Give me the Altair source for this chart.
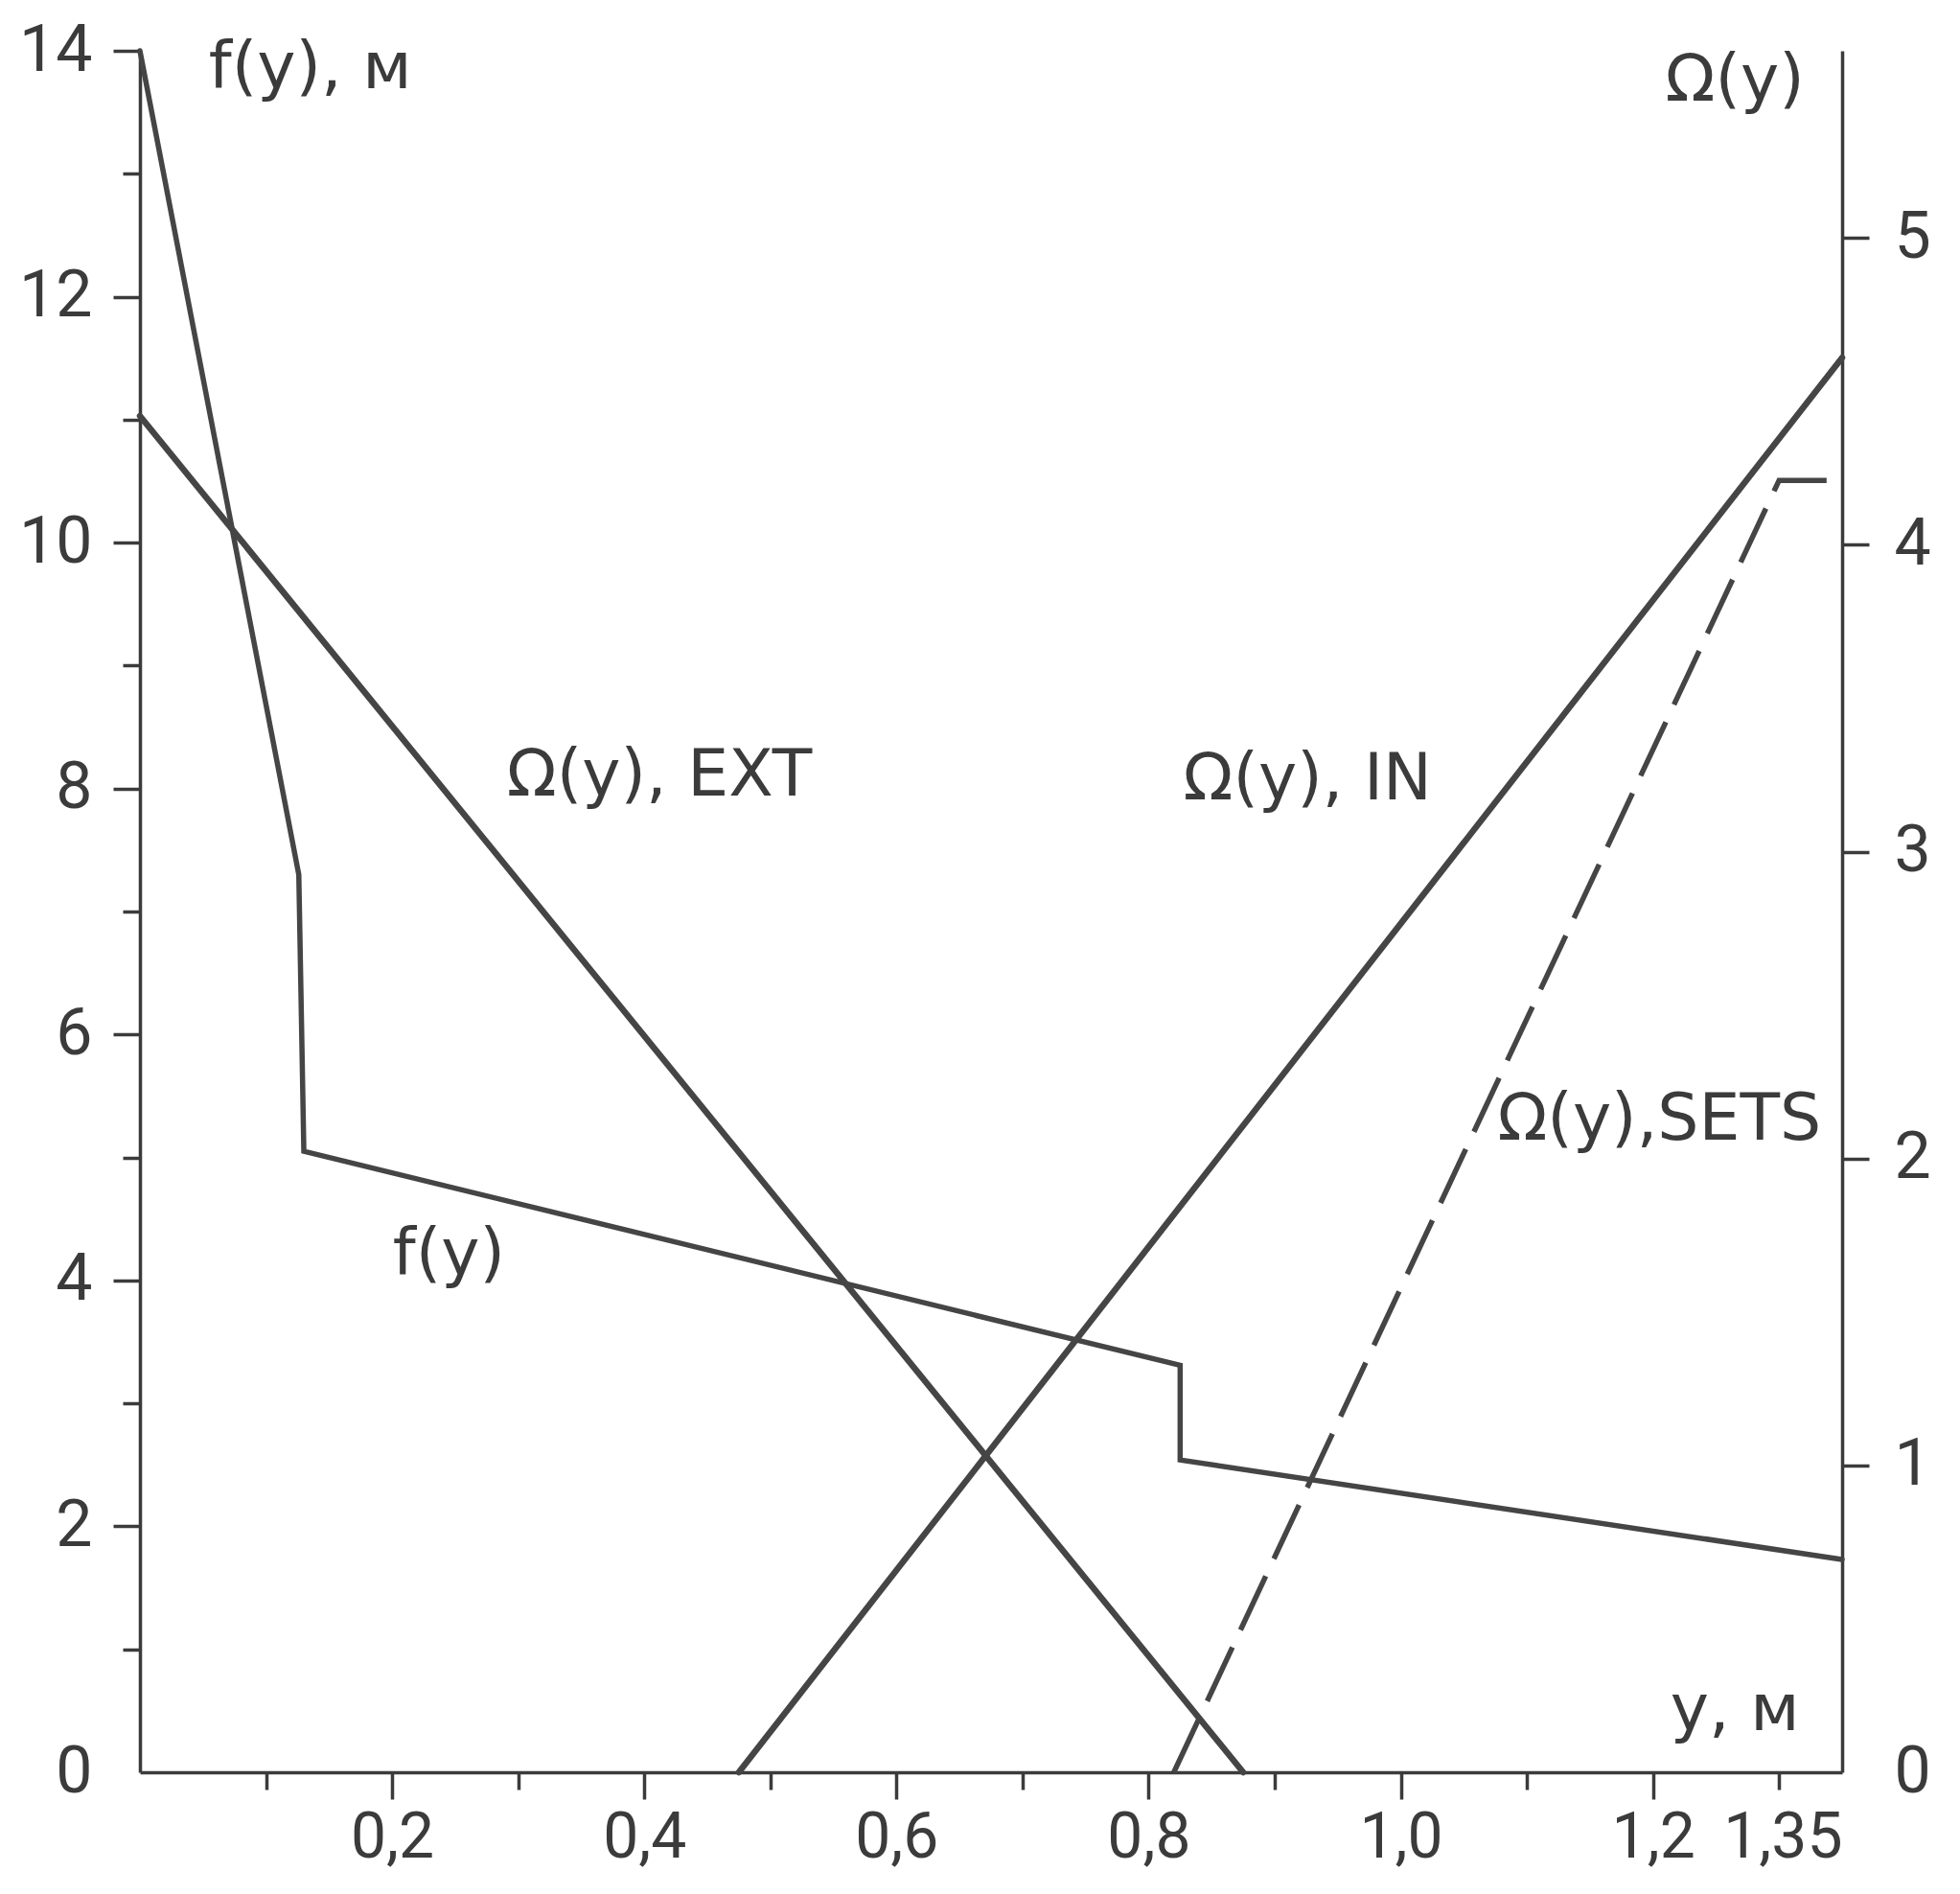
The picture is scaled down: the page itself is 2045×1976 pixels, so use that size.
import altair as alt
import pandas as pd

# ---------------- data ----------------
# f(y), m  (left axis)
f_x = [0.0, 0.126, 0.13, 0.825, 0.825, 1.35]
f_val = [14.0, 7.3, 5.05, 3.31, 2.54, 1.73]

# Omega(y) curves (right axis)
ext_x = [0.0, 0.875]
ext_val = [4.42, 0.0]
in_x = [0.475, 1.35]
in_val = [0.0, 4.61]
sets_x = [0.82, 1.30, 1.35]
sets_val = [0.0, 4.21, 4.21]

# axes
x_domain = [0.0, 1.35]
f_domain = [0.0, 14.0]
omega_domain = [0.0, 5.61]
x_tick_values = [0.1, 0.2, 0.3, 0.4, 0.5, 0.6, 0.7, 0.8, 0.9, 1.0, 1.1, 1.2, 1.3, 1.35]
x_tick_labels = {0.2: "0,2", 0.4: "0,4", 0.6: "0,6", 0.8: "0,8",
                 1.0: "1,0", 1.2: "1,2", 1.35: "1,35"}
f_tick_values = list(range(0, 15))
f_tick_labels = {0: "0", 2: "2", 4: "4", 6: "6", 8: "8", 10: "10", 12: "12", 14: "14"}
omega_tick_values = [0, 1, 2, 3, 4, 5]

# annotations (centre position in x / f units)
ann_text = ["f(y), м", "Ω(y)", "y, м", "Ω(y), EXT", "Ω(y), IN", "Ω(y),SETS", "f(y)"]
ann_x = [0.135, 1.265, 1.265, 0.412, 0.926, 1.205, 0.245]
ann_f = [13.85, 13.75, 0.5, 8.1, 8.07, 5.3, 4.2]

# ---------------- build tables ----------------
f_df = pd.DataFrame({"x": f_x, "f": f_val, "i": list(range(len(f_x)))})
solid_df = pd.DataFrame({
    "x": ext_x + in_x,
    "omega": ext_val + in_val,
    "series": ["EXT"] * len(ext_x) + ["IN"] * len(in_x),
    "i": list(range(len(ext_x))) + list(range(len(in_x))),
})
sets_df = pd.DataFrame({"x": sets_x, "omega": sets_val, "i": list(range(len(sets_x)))})
ann_df = pd.DataFrame({"x": ann_x, "f": ann_f, "t": ann_text})

INK = "#3b3b3b"
LINE = "#454545"


def near(v):
    return f"abs(datum.value - {v}) < 0.001"


x_label_expr = " : ".join(f"{near(v)} ? '{s}'" for v, s in x_tick_labels.items()) + " : ''"
x_major_test = " || ".join(near(v) for v in x_tick_labels)
f_label_expr = " : ".join(f"{near(v)} ? '{s}'" for v, s in f_tick_labels.items()) + " : ''"
f_major_test = " || ".join(near(v) for v in f_tick_labels)

x_axis = alt.Axis(
    title=None, values=x_tick_values, labelExpr=x_label_expr, orient="bottom",
    tickSize={"condition": {"test": x_major_test, "value": 28}, "value": 18},
    tickOpacity={"condition": {"test": near(1.35), "value": 0}, "value": 1},
    labelPadding=8, labelFont="Roboto", labelFontSize=66,
)
f_axis = alt.Axis(
    title=None, values=f_tick_values, labelExpr=f_label_expr, orient="left",
    tickSize={"condition": {"test": f_major_test, "value": 28}, "value": 18},
    tickOpacity={"condition": {"test": near(0), "value": 0}, "value": 1},
    labelPadding=22, labelFont="Roboto", labelFontSize=68,
)
omega_axis = alt.Axis(
    title=None, values=omega_tick_values, orient="right", format="d",
    tickSize=28,
    tickOpacity={"condition": {"test": near(0), "value": 0}, "value": 1},
    labelPadding=26, labelFont="Roboto", labelFontSize=68,
)

X = alt.X("x:Q", scale=alt.Scale(domain=x_domain, nice=False, zero=False), axis=x_axis)


def Yf():
    return alt.Y("f:Q", scale=alt.Scale(domain=f_domain, nice=False), axis=f_axis)


def Yo():
    return alt.Y("omega:Q", scale=alt.Scale(domain=omega_domain, nice=False), axis=omega_axis)


f_line = alt.Chart(f_df).mark_line(color=LINE, strokeWidth=5.5, strokeCap="round", strokeJoin="miter").encode(
    x=X, y=Yf(), order="i:Q"
)
ann = alt.Chart(ann_df).mark_text(
    font="DejaVu Sans", fontSize=68, color=INK, align="center", baseline="middle"
).encode(x=X, y=Yf(), text="t:N")

left = alt.layer(f_line, ann)

solid = alt.Chart(solid_df).mark_line(color=LINE, strokeWidth=6.5, strokeCap="round").encode(
    x=X, y=Yo(), detail="series:N", order="i:Q"
)
dashed = alt.Chart(sets_df).mark_line(color=LINE, strokeWidth=5.5, strokeDash=[62, 20]).encode(
    x=X, y=Yo(), order="i:Q"
)
right = alt.layer(solid, dashed)

chart = alt.layer(left, right).resolve_scale(y="independent").properties(
    width=1776, height=1796,
    autosize=alt.AutoSizeParams(type="none"),
    padding={"left": 138, "top": 45, "right": 100, "bottom": 118},
    background="white",
).configure_axis(
    grid=False, domainColor=INK, domainWidth=3.5, tickColor=INK, tickWidth=3.5,
    labelColor=INK,
).configure_view(strokeWidth=0)

chart.save("out.html", embed_options={"renderer": "svg", "actions": False})
